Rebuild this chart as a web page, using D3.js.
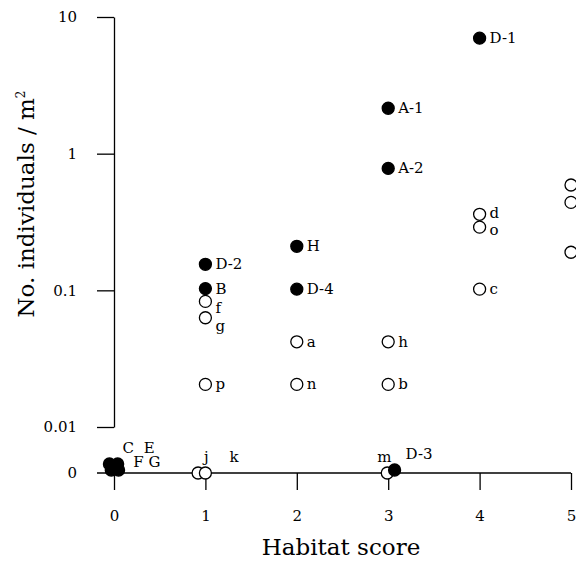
<!DOCTYPE html>
<html>
<head>
<meta charset="utf-8">
<script src="https://cdn.jsdelivr.net/npm/d3@7"></script>
<style>
  body { margin: 0; background: #fff; }
  text { font-family: "DejaVu Serif", serif; fill: #000; }
</style>
</head>
<body>
<div id="chart"></div>
<script>
// Data: sites with density > 0 (log part of the axis)
const solidNames = ['D-1', 'A-1', 'A-2', 'H', 'D-2', 'B', 'D-4'];
const solidScore = [4, 3, 3, 2, 1, 1, 2];
const solidDensity = [7.0, 2.15, 0.78, 0.21, 0.155, 0.103, 0.102];

const openNames = ['d', 'o', 'c', 'f', 'g', 'a', 'h', 'p', 'n', 'b', '', '', ''];
const openScore = [4, 4, 4, 1, 1, 2, 3, 1, 2, 3, 5, 5, 5];
const openDensity = [0.36, 0.29, 0.102, 0.083, 0.063, 0.042, 0.042, 0.0205, 0.0205, 0.0205, 0.59, 0.44, 0.19];

// Sites with zero density (score jittered a little, stacked in rows)
const zeroSolidNames = ['C', 'E', 'F', 'G', 'D-3'];
const zeroSolidScore = [-0.05, 0.04, -0.03, 0.05, 3.07];
const zeroSolidRow = [1, 1, 0, 0, 0];
const zeroOpenNames = ['j', 'k', 'm'];
const zeroOpenScore = [0.92, 1.0, 2.99];

const xTicks = [0, 1, 2, 3, 4, 5];
const yTicks = [0.01, 0.1, 1, 10];

// Label placement tweaks (pixels from point centre)
const labelOffset = {
  f: [10, 12], g: [10, 13], d: [10, 4], o: [10, 8],
  C: [13, -11], E: [26, -11], F: [22, -3], G: [30, -3],
  'D-3': [11, -11], j: [6, -11], k: [24, -11], m: [-10, -11]
};

// Setup
const width = 576, height = 562;
const svg = d3.select('#chart')
  .append('svg')
  .attr('width', width)
  .attr('height', height);

const x = d3.scaleLinear().domain([0, 5]).range([114, 571]);
const y = d3.scaleLog().domain([0.01, 10]).range([427, 17]);
const zeroY = 473;
const r = 6;

// Y axis (log part)
const yAxis = svg.append('g')
  .attr('transform', `translate(${x(0)},0)`)
  .call(d3.axisLeft(y).tickValues(yTicks).tickSize(17).tickSizeOuter(0).tickPadding(20)
    .tickFormat(d => d >= 1 ? d3.format('d')(d) : String(d)));
yAxis.selectAll('text').style('font-size', '15px').attr('font-family', null);
yAxis.selectAll('line, path').attr('stroke', '#000').attr('stroke-width', 1.3);

// Zero row with x axis
svg.append('line')
  .attr('x1', x(0) - 17).attr('x2', x(5))
  .attr('y1', zeroY).attr('y2', zeroY)
  .attr('stroke', '#000').attr('stroke-width', 1.3);
svg.append('text')
  .attr('x', x(0) - 37).attr('y', zeroY).attr('dy', '0.32em')
  .attr('text-anchor', 'end').style('font-size', '15px')
  .text('0');

const xAxis = svg.append('g')
  .attr('transform', `translate(0,${zeroY})`)
  .call(d3.axisBottom(x).tickValues(xTicks).tickFormat(d3.format('d'))
    .tickSize(17).tickSizeOuter(0).tickPadding(20));
xAxis.select('.domain').remove();
xAxis.selectAll('text').style('font-size', '15px').attr('font-family', null);
xAxis.selectAll('line').attr('stroke', '#000').attr('stroke-width', 1.3);

// Axis titles
svg.append('text')
  .attr('x', 341).attr('y', 555)
  .attr('text-anchor', 'middle').style('font-size', '23px')
  .text('Habitat score');

const yTitle = svg.append('text')
  .attr('transform', 'translate(34,204) rotate(-90)')
  .attr('text-anchor', 'middle').style('font-size', '23px');
yTitle.append('tspan').text('No. individuals / m');
yTitle.append('tspan').attr('dy', -9).style('font-size', '12px').text('2');

// Build point lists
const pts = [];
solidNames.forEach((n, i) => pts.push({ name: n, px: x(solidScore[i]), py: y(solidDensity[i]), solid: true }));
openNames.forEach((n, i) => pts.push({ name: n, px: x(openScore[i]), py: y(openDensity[i]), solid: false }));
zeroOpenNames.forEach((n, i) => pts.push({ name: n, px: x(zeroOpenScore[i]), py: zeroY, solid: false }));
zeroSolidNames.forEach((n, i) => pts.push({ name: n, px: x(zeroSolidScore[i]), py: zeroY - 3 - zeroSolidRow[i] * 6, solid: true }));

svg.append('g').selectAll('circle')
  .data(pts)
  .join('circle')
  .attr('cx', d => d.px)
  .attr('cy', d => d.py)
  .attr('r', r)
  .attr('fill', d => d.solid ? '#000' : '#fff')
  .attr('stroke', '#000')
  .attr('stroke-width', 1.3);

svg.append('g').selectAll('text')
  .data(pts.filter(d => d.name))
  .join('text')
  .attr('x', d => d.px + (labelOffset[d.name] ? labelOffset[d.name][0] : 10))
  .attr('y', d => d.py + (labelOffset[d.name] ? labelOffset[d.name][1] : 5))
  .style('font-size', '15px')
  .text(d => d.name);
</script>
</body>
</html>
